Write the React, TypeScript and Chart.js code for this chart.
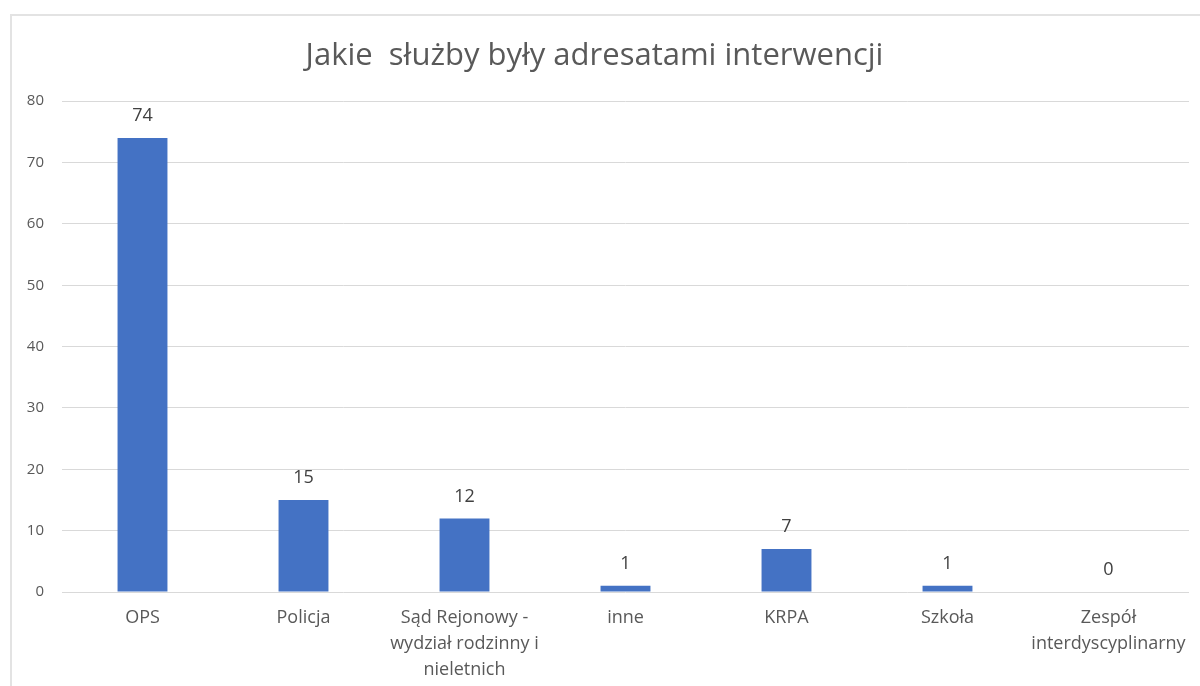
import React, { useEffect, useRef } from "react";
import { Chart, registerables } from "chart.js";

Chart.register(...registerables);

const TITLE = "Jakie  służby były adresatami interwencji";
const categories: string[][] = [
  ["OPS"],
  ["Policja"],
  ["Sąd Rejonowy -", "wydział rodzinny i", "nieletnich"],
  ["inne"],
  ["KRPA"],
  ["Szkoła"],
  ["Zespół", "interdyscyplinarny"],
];
const values: number[] = [74, 15, 12, 1, 7, 1, 0];
const yMin = 0;
const yMax = 80;
const yStep = 10;

const FONT = "'Open Sans', 'Noto Sans', sans-serif";

const dataLabelPlugin = {
  id: "dataLabels",
  afterDatasetsDraw(chart: any) {
    const ctx = chart.ctx;
    const meta = chart.getDatasetMeta(0);
    ctx.save();
    ctx.font = `18px ${FONT}`;
    ctx.fillStyle = "#404040";
    ctx.textAlign = "center";
    ctx.textBaseline = "middle";
    meta.data.forEach((el: any, i: number) => {
      ctx.fillText(String(values[i]), el.x, el.y - 22);
    });
    ctx.restore();
  },
};

export default function App() {
  const ref = useRef<HTMLCanvasElement | null>(null);
  useEffect(() => {
    if (!ref.current) return;
    const chart = new Chart(ref.current, {
      type: "bar",
      data: {
        labels: categories,
        datasets: [
          {
            data: values,
            backgroundColor: "#4472C4",
            borderWidth: 0,
            barPercentage: 0.31,
            categoryPercentage: 1,
          },
        ],
      },
      options: {
        responsive: false,
        animation: false,
        layout: { padding: { left: 0, right: 11, top: 0, bottom: 0 } },
        plugins: {
          legend: { display: false },
          tooltip: { enabled: false },
          title: {
            display: true,
            text: TITLE,
            color: "#595959",
            font: { family: FONT, size: 31, weight: "normal" },
            padding: { top: 38, bottom: 26 },
          },
        },
        scales: {
          x: {
            grid: { display: false },
            border: { display: false },
            ticks: {
              color: "#595959",
              font: { family: FONT, size: 18, lineHeight: 26 / 18 },
              padding: 5,
              maxRotation: 0,
              autoSkip: false,
            },
            afterFit: (s: any) => {
              s.height = 94;
            },
          },
          y: {
            min: yMin,
            max: yMax,
            grid: { color: "#d9d9d9", drawTicks: false, lineWidth: 1 },
            border: { display: false },
            ticks: {
              stepSize: yStep,
              color: "#595959",
              font: { family: FONT, size: 15 },
              padding: 18,
            },
            afterFit: (s: any) => {
              s.width = 62;
            },
          },
        },
      },
      plugins: [dataLabelPlugin],
    });
    return () => chart.destroy();
  }, []);

  return (
    <div
      style={{
        position: "absolute",
        left: 0,
        top: 0,
        width: 1200,
        height: 686,
        background: "#fff",
        overflow: "hidden",
      }}
    >
      <div
        style={{
          position: "absolute",
          left: 10,
          top: 14,
          width: 1300,
          height: 800,
          borderLeft: "2px solid #e3e3e3",
          borderTop: "2px solid #e3e3e3",
        }}
      />
      <canvas
        ref={ref}
        width={1200}
        height={686}
        style={{ position: "absolute", left: 0, top: 0, width: 1200, height: 686 }}
      />
    </div>
  );
}
